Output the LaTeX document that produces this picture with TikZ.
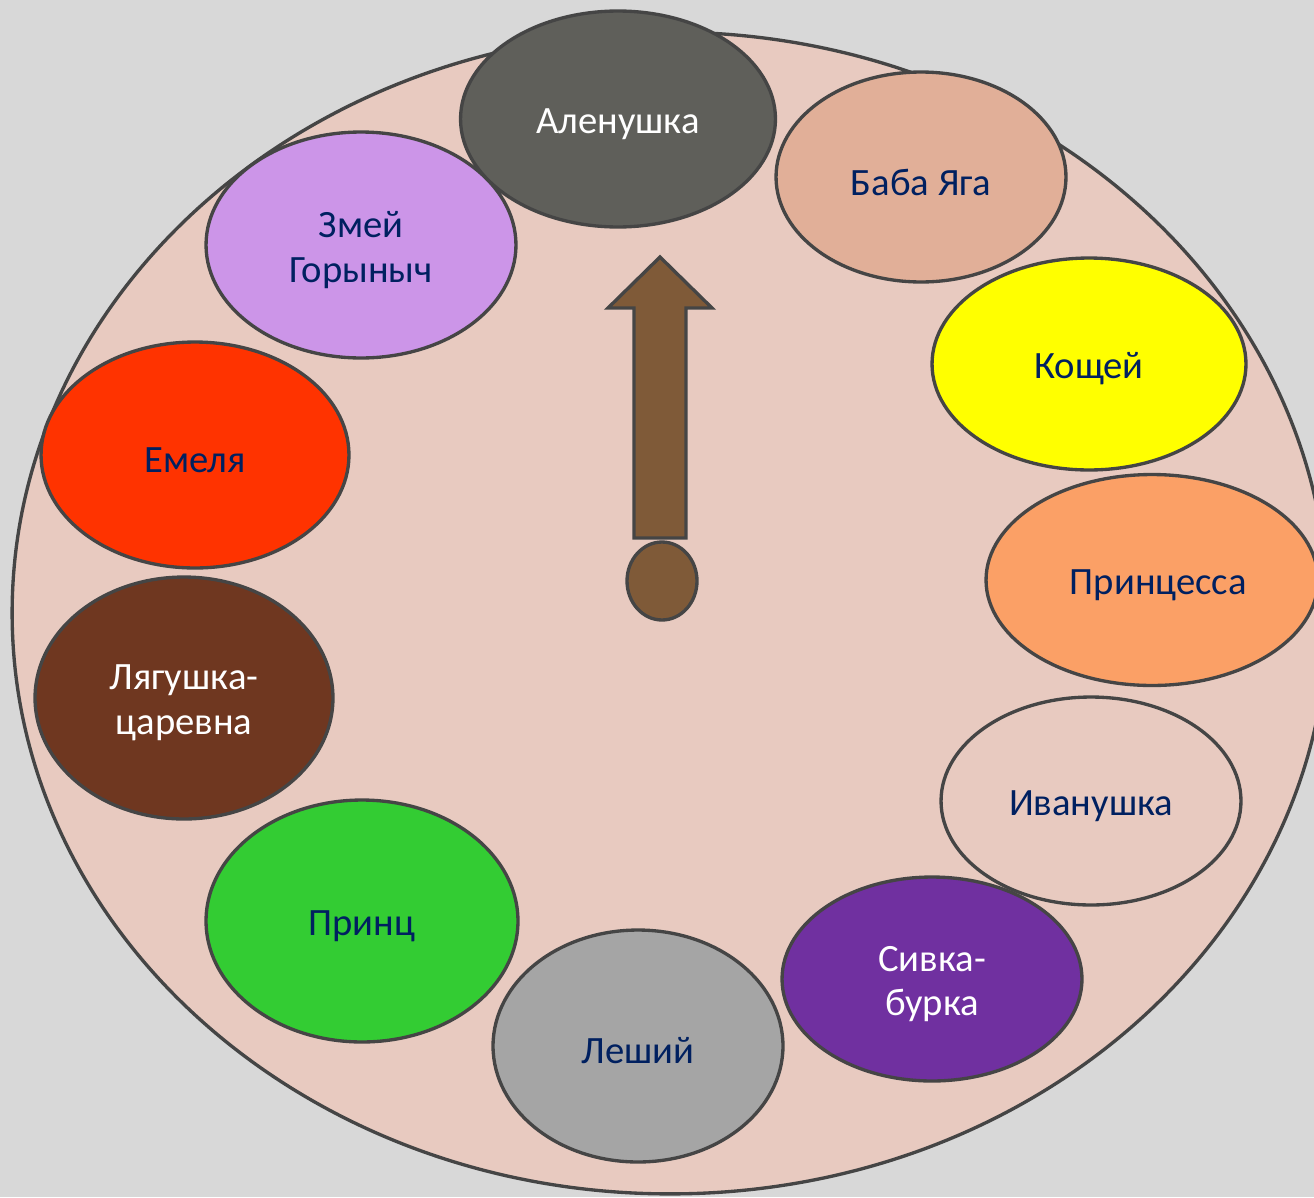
\documentclass[tikz,border=0pt]{standalone}
\usepackage{fontspec}
\setmainfont{Carlito}
\usetikzlibrary{shapes.geometric}

\definecolor{canvas}{HTML}{D8D8D8}
\definecolor{dial}{HTML}{E8CAC0}
\definecolor{rim}{HTML}{454545}
\definecolor{ink}{HTML}{002060}
\definecolor{handbrown}{HTML}{7F5A38}
\definecolor{zmeyfill}{HTML}{CC95E8}
\definecolor{alenfill}{HTML}{5F5F5A}
\definecolor{babafill}{HTML}{E1AF98}
\definecolor{koschfill}{HTML}{FFFF00}
\definecolor{princessfill}{HTML}{FBA066}
\definecolor{sivkafill}{HTML}{7030A0}
\definecolor{leshyfill}{HTML}{A5A5A5}
\definecolor{princefill}{HTML}{33CC33}
\definecolor{frogfill}{HTML}{6F3720}
\definecolor{emelyafill}{HTML}{FF3300}

% text sits a little below the middle of each ellipse
\newcommand\nudge[1]{\raisebox{-0.1cm}[\height][\depth]{#1}}

\tikzset{
  hero/.style={ellipse, draw=rim, line width=1.9pt, inner sep=0pt,
    align=center, text=ink, font=\fontsize{22}{25.5}\selectfont},
  herolight/.style={hero, text=white},
}

\begin{document}
\begin{tikzpicture}[x=0.02cm, y=-0.02cm]
\useasboundingbox (0,0) rectangle (1314,1197);
\fill [canvas] (0,0) rectangle (1314,1197);

% dial
\draw [fill=dial, draw=rim, line width=1.9pt] (670,613) ellipse [x radius=13.16cm, y radius=11.62cm];

% characters round the dial
\node [hero, fill=zmeyfill, minimum width=6.2cm, minimum height=4.52cm] (zmey) at (361,245) {\nudge{Змей}\\\nudge{Горыныч}};
\node [herolight, fill=alenfill, minimum width=6.3cm, minimum height=4.32cm] (alen) at (618,119) {\nudge{Аленушка}};
\node [hero, fill=babafill, minimum width=5.8cm, minimum height=4.2cm] (baba) at (921,177) {\nudge{Баба Яга}};
\node [hero, fill=koschfill, minimum width=6.28cm, minimum height=4.24cm] (kosch) at (1089,364) {\nudge{Кощей}};
\node [hero, fill=princessfill, minimum width=6.64cm, minimum height=4.22cm] (princess) at (1152,580) {\hspace*{0.25cm}\nudge{Принцесса}};
\node [hero, fill=dial, minimum width=6.0cm, minimum height=4.16cm] (ivan) at (1091,801) {\nudge{Иванушка}};
\node [herolight, fill=sivkafill, minimum width=6.0cm, minimum height=4.08cm] (sivka) at (932,979) {\nudge{Сивка-}\\\nudge{бурка}};
\node [hero, fill=leshyfill, minimum width=5.8cm, minimum height=4.64cm] (leshy) at (638,1046) {\nudge{Леший}};
\node [hero, fill=princefill, minimum width=6.24cm, minimum height=4.84cm] (prince) at (362,921) {\nudge{Принц}};
\node [herolight, fill=frogfill, minimum width=5.96cm, minimum height=4.84cm] (frog) at (184,698) {\nudge{Лягушка-}\\\nudge{царевна}};
\node [hero, fill=emelyafill, minimum width=6.16cm, minimum height=4.52cm] (emelya) at (195,455) {\nudge{Емеля}};

% hand
\draw [fill=handbrown, draw=rim, line width=1.9pt, line join=miter]
  (660,257) -- (712,308) -- (686,308) -- (686,538) -- (634,538) -- (634,308) -- (608,308) -- cycle;
\node [ellipse, fill=handbrown, draw=rim, line width=1.9pt, minimum width=1.4cm, minimum height=1.56cm, inner sep=0pt] (knob) at (662,581) {};

\end{tikzpicture}
\end{document}
